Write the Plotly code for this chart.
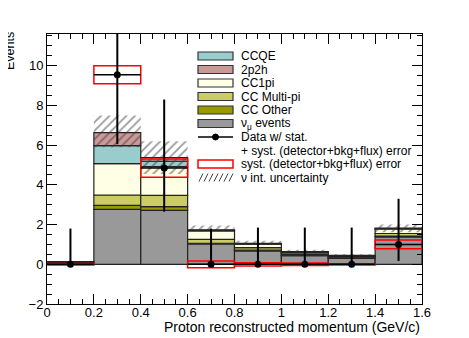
import plotly.graph_objects as go

# binning (GeV/c)
bin_centers = [0.1, 0.3, 0.5, 0.7, 0.9, 1.1, 1.3, 1.5]
bin_width = 0.2

# MC stack components, bottom to top
nu_events = [0.10, 2.77, 2.72, 1.03, 0.68, 0.43, 0.30, 1.38]
cc_other = [0.01, 0.20, 0.18, 0.03, 0.03, 0.03, 0.02, 0.04]
cc_multipi = [0.00, 0.52, 0.57, 0.20, 0.13, 0.06, 0.04, 0.13]
cc1pi = [0.01, 1.58, 1.45, 0.42, 0.17, 0.08, 0.06, 0.23]
ccqe = [0.00, 0.91, 0.27, 0.03, 0.03, 0.02, 0.02, 0.02]
two_p2h = [0.00, 0.65, 0.19, 0.02, 0.02, 0.02, 0.01, 0.02]

# nu interaction uncertainty band
band_low = [0.10, 5.90, 4.55, 1.70, 1.03, 0.62, 0.44, 1.62]
band_high = [0.14, 7.50, 6.20, 1.95, 1.19, 0.73, 0.50, 2.00]

# data
data_y = [0.0, 9.55, 4.85, 0.0, 0.0, 0.0, 0.0, 1.0]
data_err_up = [1.8, 4.0, 3.45, 1.8, 1.85, 1.85, 1.85, 2.3]
data_err_down = [0.0, 3.5, 2.2, 0.0, 0.0, 0.0, 0.0, 0.83]
syst_err = [0.04, 0.45, 0.46, 0.17, 0.08, 0.06, 0.03, 0.22]

components = [
    ("ν<sub>μ</sub> events", nu_events, "#999999"),
    ("CC Other", cc_other, "#999900"),
    ("CC Multi-pi", cc_multipi, "#cccc66"),
    ("CC1pi", cc1pi, "#ffffe6"),
    ("CCQE", ccqe, "#99cccc"),
    ("2p2h", two_p2h, "#cc9999"),
]

FONT = "Liberation Sans, Arial, sans-serif"
W, H = 469, 338
# frame in window pixels; page body adds an 8px offset, so margins are shifted
PX0, PX1, PY0, PY1 = 47, 422, 34, 304
OFF = 8

fig = go.Figure()

base = [0.0] * len(bin_centers)
for name, vals, color in components:
    fig.add_trace(go.Bar(
        x=bin_centers, y=vals, base=base, width=bin_width, name=name,
        marker=dict(color=color, line=dict(color="#222222", width=1.2)),
        showlegend=False,
    ))
    base = [b + v for b, v in zip(base, vals)]

# hatched nu int. uncertainty
fig.add_trace(go.Bar(
    x=bin_centers, y=[h - l for h, l in zip(band_high, band_low)], base=band_low,
    width=bin_width,
    marker=dict(color="rgba(0,0,0,0)", line=dict(width=0),
                pattern=dict(shape="/", fgcolor="#333333", size=6, solidity=0.3,
                             fillmode="overlay")),
    showlegend=False,
))

# syst boxes
fig.add_trace(go.Bar(
    x=bin_centers, y=[2 * s for s in syst_err],
    base=[d - s for d, s in zip(data_y, syst_err)], width=bin_width,
    marker=dict(color="rgba(0,0,0,0)", line=dict(color="#ff0000", width=1.5)),
    showlegend=False,
))

# data points
fig.add_trace(go.Scatter(
    x=bin_centers, y=data_y, mode="markers",
    marker=dict(color="black", size=7),
    error_y=dict(type="data", symmetric=False, array=data_err_up,
                 arrayminus=data_err_down, color="black", thickness=2, width=0),
    error_x=dict(type="constant", value=bin_width / 2, color="black",
                 thickness=1.5, width=0),
    showlegend=False,
))


def px(xp, yp):
    return (xp - PX0) / (PX1 - PX0), (PY1 - yp) / (PY1 - PY0)


# hand-built legend, ROOT style
shapes = []
annotations = []
legend_rows = [
    ("CCQE", "box", "#99cccc"),
    ("2p2h", "box", "#cc9999"),
    ("CC1pi", "box", "#ffffe6"),
    ("CC Multi-pi", "box", "#cccc66"),
    ("CC Other", "box", "#999900"),
    ("ν<sub>μ</sub> events", "box", "#999999"),
    ("Data w/ stat.", "data", None),
    ("+ syst. (detector+bkg+flux) error", None, None),
    ("syst. (detector+bkg+flux) error", "red", None),
    ("ν int. uncertainty", "hatch", None),
]
sx0, sx1, tx = 198, 233, 239
for k, (label, kind, color) in enumerate(legend_rows):
    yc = 56 + 13.5 * k
    if kind == "box" or kind == "red":
        x0, y0 = px(sx0, yc + 4)
        x1, y1 = px(sx1, yc - 4)
        shapes.append(dict(
            type="rect", xref="paper", yref="paper", x0=x0, y0=y0, x1=x1, y1=y1,
            fillcolor=color if kind == "box" else "white",
            line=dict(color="#333333" if kind == "box" else "#ff0000",
                      width=1.2 if kind == "box" else 1.5),
        ))
    elif kind == "data":
        x0, y0 = px(sx0, yc)
        x1, _ = px(sx1, yc)
        shapes.append(dict(type="line", xref="paper", yref="paper",
                           x0=x0, y0=y0, x1=x1, y1=y0,
                           line=dict(color="black", width=1.5)))
        cx0, cy0 = px((sx0 + sx1) / 2 - 3, yc + 3)
        cx1, cy1 = px((sx0 + sx1) / 2 + 3, yc - 3)
        shapes.append(dict(type="circle", xref="paper", yref="paper",
                           x0=cx0, y0=cy0, x1=cx1, y1=cy1,
                           fillcolor="black", line=dict(color="black", width=1)))
    elif kind == "hatch":
        for i in range(7):
            xs = sx0 + 1 + i * 5
            x0, y0 = px(xs, yc + 4)
            x1, y1 = px(xs + 4, yc - 4)
            shapes.append(dict(type="line", xref="paper", yref="paper",
                               x0=x0, y0=y0, x1=x1, y1=y1,
                               line=dict(color="#444444", width=1)))
    ax, ay = px(tx, yc)
    annotations.append(dict(
        text=label, xref="paper", yref="paper", x=ax, y=ay,
        xanchor="left", yanchor="middle", showarrow=False,
        font=dict(family=FONT, size=12, color="black"),
    ))

# axis titles, ROOT placement (x right aligned, y at the top)
tx_x, tx_y = px(PX1, 327)
annotations.append(dict(
    text="Proton reconstructed momentum (GeV/c)", xref="paper", yref="paper",
    x=tx_x, y=tx_y, xanchor="right", yanchor="middle", showarrow=False,
    font=dict(family=FONT, size=14, color="black"),
))
ev_x, ev_y = px(10, 51)
annotations.append(dict(
    text="Events", xref="paper", yref="paper", x=ev_x, y=ev_y,
    xanchor="center", yanchor="middle", textangle=-90, showarrow=False,
    font=dict(family=FONT, size=12.5, color="black"),
))

axis_common = dict(
    showline=True, linecolor="black", linewidth=1, mirror="allticks",
    ticks="inside", ticklen=10, tickcolor="black", showgrid=False,
    zeroline=False, automargin=False,
    tickfont=dict(family=FONT, size=13, color="black"),
)

fig.update_layout(
    width=W, height=H,
    margin=dict(l=PX0 - OFF, r=W - PX1 + OFF, t=PY0 - OFF, b=H - PY1 + OFF),
    barmode="overlay", plot_bgcolor="white", paper_bgcolor="white",
    xaxis=dict(range=[0, 1.6], dtick=0.2, tick0=0, ticklabelstandoff=-4,
               minor=dict(ticks="inside", ticklen=5, dtick=0.05, tickcolor="black"),
               **axis_common),
    yaxis=dict(range=[-2, 11.6], dtick=2, tick0=0,
               minor=dict(ticks="inside", ticklen=5, dtick=0.5, tickcolor="black"),
               **axis_common),
    shapes=shapes, annotations=annotations, showlegend=False,
)

fig.write_html("out.html")
